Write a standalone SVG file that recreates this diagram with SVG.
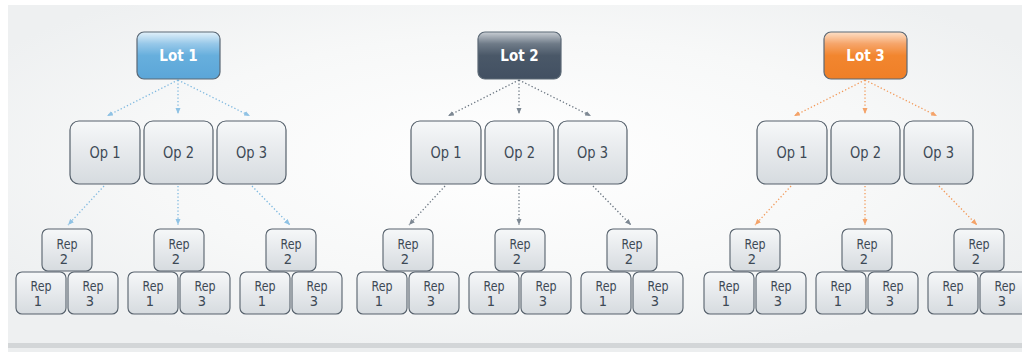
<svg xmlns="http://www.w3.org/2000/svg" width="1022" height="352" viewBox="0 0 1022 352">
<defs>
<radialGradient id="bg" cx="0.5" cy="0.45" r="0.6">
<stop offset="0" stop-color="#ffffff"/>
<stop offset="0.6" stop-color="#f7f8f8"/>
<stop offset="1" stop-color="#eef0f1"/>
</radialGradient>
<linearGradient id="gOp" x1="0" y1="0" x2="0" y2="1">
<stop offset="0" stop-color="#f6f8f9"/>
<stop offset="0.5" stop-color="#e6e9ec"/>
<stop offset="1" stop-color="#d6dbdf"/>
</linearGradient>
<linearGradient id="gL1" x1="0" y1="0" x2="0" y2="1">
<stop offset="0" stop-color="#e3f1fa"/>
<stop offset="0.25" stop-color="#97c8e9"/>
<stop offset="0.5" stop-color="#67afdd"/>
<stop offset="1" stop-color="#5ba6d8"/>
</linearGradient>
<linearGradient id="gL2" x1="0" y1="0" x2="0" y2="1">
<stop offset="0" stop-color="#c9ced4"/>
<stop offset="0.25" stop-color="#6f7b88"/>
<stop offset="0.5" stop-color="#4a5868"/>
<stop offset="1" stop-color="#425062"/>
</linearGradient>
<linearGradient id="gL3" x1="0" y1="0" x2="0" y2="1">
<stop offset="0" stop-color="#fde0c8"/>
<stop offset="0.25" stop-color="#f6a56a"/>
<stop offset="0.5" stop-color="#f2862f"/>
<stop offset="1" stop-color="#ef7f27"/>
</linearGradient>
<marker id="aB" markerWidth="7" markerHeight="6" refX="6" refY="3" orient="auto" markerUnits="userSpaceOnUse"><path d="M0,0.5 L6,3 L0,5.5 z" fill="#8fc2e4"/></marker>
<marker id="aD" markerWidth="7" markerHeight="6" refX="6" refY="3" orient="auto" markerUnits="userSpaceOnUse"><path d="M0,0.5 L6,3 L0,5.5 z" fill="#7d8893"/></marker>
<marker id="aO" markerWidth="7" markerHeight="6" refX="6" refY="3" orient="auto" markerUnits="userSpaceOnUse"><path d="M0,0.5 L6,3 L0,5.5 z" fill="#f4a369"/></marker>
<style>
.lot rect{stroke:#5b6875;stroke-width:1.2}
.lot text{font-family:"DejaVu Sans Condensed","DejaVu Sans",sans-serif;font-weight:bold;font-size:15px;fill:#ffffff;text-anchor:middle}
.op rect{fill:url(#gOp);stroke:#56616c;stroke-width:1.2}
.op text{font-family:"DejaVu Sans Condensed","DejaVu Sans",sans-serif;font-size:16.5px;fill:#3d4955;text-anchor:middle}
.rep rect{fill:url(#gOp);stroke:#56616c;stroke-width:1.1}
.rep text{font-family:"DejaVu Sans Condensed","DejaVu Sans",sans-serif;font-size:14.5px;fill:#3d4955;text-anchor:middle}
.c{fill:none;stroke-width:1.3;stroke-dasharray:1.3 2.2}
.cB{stroke:#7fb9e0;marker-end:url(#aB)}
.cD{stroke:#6a7580;marker-end:url(#aD)}
.cO{stroke:#f39a5a;marker-end:url(#aO)}
</style>
</defs>
<rect x="0" y="0" width="1022" height="352" fill="#ffffff"/>
<rect x="8" y="5" width="1014" height="341" fill="url(#bg)"/>
<rect x="8" y="343" width="1014" height="5" fill="#d3d6d8"/>
<rect x="8" y="348" width="1014" height="4" fill="#eceeef"/>

<g id="connectors">
<g class="c cB">
<path d="M178,80 L107,116"/><path d="M178,80 L178,114"/><path d="M178,80 L250,116"/>
<path d="M104,186 L68,225"/><path d="M178,186 L178,225"/><path d="M252,186 L290,225"/>
</g>
<g class="c cD">
<path d="M519,80 L448,116"/><path d="M519,80 L519,114"/><path d="M519,80 L591,116"/>
<path d="M445,186 L409,225"/><path d="M519,186 L519,225"/><path d="M593,186 L631,225"/>
</g>
<g class="c cO">
<path d="M865,80 L794,116"/><path d="M865,80 L865,114"/><path d="M865,80 L937,116"/>
<path d="M791,186 L755,225"/><path d="M865,186 L865,225"/><path d="M939,186 L977,225"/>
</g>
</g>

<g id="tree1">
<g id="lot1" class="lot"><rect x="137" y="32" width="83" height="47" rx="7" fill="url(#gL1)"/><text x="178.5" y="61">Lot 1</text></g>
<g id="t1-op1" class="op"><rect x="70" y="121" width="70" height="63" rx="9"/><text x="105" y="158" textLength="31" lengthAdjust="spacingAndGlyphs">Op 1</text></g>
<g id="t1-op2" class="op"><rect x="144" y="121" width="69" height="63" rx="9"/><text x="178.5" y="158" textLength="31" lengthAdjust="spacingAndGlyphs">Op 2</text></g>
<g id="t1-op3" class="op"><rect x="217" y="121" width="69" height="63" rx="9"/><text x="251.5" y="158" textLength="31" lengthAdjust="spacingAndGlyphs">Op 3</text></g>
<g id="t1-a-rep2" class="rep"><rect x="42" y="229" width="50" height="42" rx="6"/><text x="67" y="248.5" textLength="21" lengthAdjust="spacingAndGlyphs">Rep</text><text x="64" y="264">2</text></g>
<g id="t1-a-rep1" class="rep"><rect x="16" y="272" width="50" height="42" rx="6"/><text x="41" y="291" textLength="21" lengthAdjust="spacingAndGlyphs">Rep</text><text x="38" y="306">1</text></g>
<g id="t1-a-rep3" class="rep"><rect x="68" y="272" width="50" height="42" rx="6"/><text x="93" y="291" textLength="21" lengthAdjust="spacingAndGlyphs">Rep</text><text x="90" y="306">3</text></g>
<g id="t1-b-rep2" class="rep"><rect x="154" y="229" width="50" height="42" rx="6"/><text x="179" y="248.5" textLength="21" lengthAdjust="spacingAndGlyphs">Rep</text><text x="176" y="264">2</text></g>
<g id="t1-b-rep1" class="rep"><rect x="128" y="272" width="50" height="42" rx="6"/><text x="153" y="291" textLength="21" lengthAdjust="spacingAndGlyphs">Rep</text><text x="150" y="306">1</text></g>
<g id="t1-b-rep3" class="rep"><rect x="180" y="272" width="50" height="42" rx="6"/><text x="205" y="291" textLength="21" lengthAdjust="spacingAndGlyphs">Rep</text><text x="202" y="306">3</text></g>
<g id="t1-c-rep2" class="rep"><rect x="266" y="229" width="50" height="42" rx="6"/><text x="291" y="248.5" textLength="21" lengthAdjust="spacingAndGlyphs">Rep</text><text x="288" y="264">2</text></g>
<g id="t1-c-rep1" class="rep"><rect x="240" y="272" width="50" height="42" rx="6"/><text x="265" y="291" textLength="21" lengthAdjust="spacingAndGlyphs">Rep</text><text x="262" y="306">1</text></g>
<g id="t1-c-rep3" class="rep"><rect x="292" y="272" width="50" height="42" rx="6"/><text x="317" y="291" textLength="21" lengthAdjust="spacingAndGlyphs">Rep</text><text x="314" y="306">3</text></g>
</g>

<g id="tree2" transform="translate(341,0)">
<g id="lot2" class="lot"><rect x="137" y="32" width="83" height="47" rx="7" fill="url(#gL2)"/><text x="178.5" y="61">Lot 2</text></g>
<g id="t2-op1" class="op"><rect x="70" y="121" width="70" height="63" rx="9"/><text x="105" y="158" textLength="31" lengthAdjust="spacingAndGlyphs">Op 1</text></g>
<g id="t2-op2" class="op"><rect x="144" y="121" width="69" height="63" rx="9"/><text x="178.5" y="158" textLength="31" lengthAdjust="spacingAndGlyphs">Op 2</text></g>
<g id="t2-op3" class="op"><rect x="217" y="121" width="69" height="63" rx="9"/><text x="251.5" y="158" textLength="31" lengthAdjust="spacingAndGlyphs">Op 3</text></g>
<g id="t2-a-rep2" class="rep"><rect x="42" y="229" width="50" height="42" rx="6"/><text x="67" y="248.5" textLength="21" lengthAdjust="spacingAndGlyphs">Rep</text><text x="64" y="264">2</text></g>
<g id="t2-a-rep1" class="rep"><rect x="16" y="272" width="50" height="42" rx="6"/><text x="41" y="291" textLength="21" lengthAdjust="spacingAndGlyphs">Rep</text><text x="38" y="306">1</text></g>
<g id="t2-a-rep3" class="rep"><rect x="68" y="272" width="50" height="42" rx="6"/><text x="93" y="291" textLength="21" lengthAdjust="spacingAndGlyphs">Rep</text><text x="90" y="306">3</text></g>
<g id="t2-b-rep2" class="rep"><rect x="154" y="229" width="50" height="42" rx="6"/><text x="179" y="248.5" textLength="21" lengthAdjust="spacingAndGlyphs">Rep</text><text x="176" y="264">2</text></g>
<g id="t2-b-rep1" class="rep"><rect x="128" y="272" width="50" height="42" rx="6"/><text x="153" y="291" textLength="21" lengthAdjust="spacingAndGlyphs">Rep</text><text x="150" y="306">1</text></g>
<g id="t2-b-rep3" class="rep"><rect x="180" y="272" width="50" height="42" rx="6"/><text x="205" y="291" textLength="21" lengthAdjust="spacingAndGlyphs">Rep</text><text x="202" y="306">3</text></g>
<g id="t2-c-rep2" class="rep"><rect x="266" y="229" width="50" height="42" rx="6"/><text x="291" y="248.5" textLength="21" lengthAdjust="spacingAndGlyphs">Rep</text><text x="288" y="264">2</text></g>
<g id="t2-c-rep1" class="rep"><rect x="240" y="272" width="50" height="42" rx="6"/><text x="265" y="291" textLength="21" lengthAdjust="spacingAndGlyphs">Rep</text><text x="262" y="306">1</text></g>
<g id="t2-c-rep3" class="rep"><rect x="292" y="272" width="50" height="42" rx="6"/><text x="317" y="291" textLength="21" lengthAdjust="spacingAndGlyphs">Rep</text><text x="314" y="306">3</text></g>
</g>

<g id="tree3" transform="translate(687,0)">
<g id="lot3" class="lot"><rect x="137" y="32" width="83" height="47" rx="7" fill="url(#gL3)"/><text x="178.5" y="61">Lot 3</text></g>
<g id="t3-op1" class="op"><rect x="70" y="121" width="70" height="63" rx="9"/><text x="105" y="158" textLength="31" lengthAdjust="spacingAndGlyphs">Op 1</text></g>
<g id="t3-op2" class="op"><rect x="144" y="121" width="69" height="63" rx="9"/><text x="178.5" y="158" textLength="31" lengthAdjust="spacingAndGlyphs">Op 2</text></g>
<g id="t3-op3" class="op"><rect x="217" y="121" width="69" height="63" rx="9"/><text x="251.5" y="158" textLength="31" lengthAdjust="spacingAndGlyphs">Op 3</text></g>
<g id="t3-a-rep2" class="rep"><rect x="43" y="229" width="50" height="42" rx="6"/><text x="68" y="248.5" textLength="21" lengthAdjust="spacingAndGlyphs">Rep</text><text x="65" y="264">2</text></g>
<g id="t3-a-rep1" class="rep"><rect x="17" y="272" width="50" height="42" rx="6"/><text x="42" y="291" textLength="21" lengthAdjust="spacingAndGlyphs">Rep</text><text x="39" y="306">1</text></g>
<g id="t3-a-rep3" class="rep"><rect x="69" y="272" width="50" height="42" rx="6"/><text x="94" y="291" textLength="21" lengthAdjust="spacingAndGlyphs">Rep</text><text x="91" y="306">3</text></g>
<g id="t3-b-rep2" class="rep"><rect x="155" y="229" width="50" height="42" rx="6"/><text x="180" y="248.5" textLength="21" lengthAdjust="spacingAndGlyphs">Rep</text><text x="177" y="264">2</text></g>
<g id="t3-b-rep1" class="rep"><rect x="129" y="272" width="50" height="42" rx="6"/><text x="154" y="291" textLength="21" lengthAdjust="spacingAndGlyphs">Rep</text><text x="151" y="306">1</text></g>
<g id="t3-b-rep3" class="rep"><rect x="181" y="272" width="50" height="42" rx="6"/><text x="206" y="291" textLength="21" lengthAdjust="spacingAndGlyphs">Rep</text><text x="203" y="306">3</text></g>
<g id="t3-c-rep2" class="rep"><rect x="267" y="229" width="50" height="42" rx="6"/><text x="292" y="248.5" textLength="21" lengthAdjust="spacingAndGlyphs">Rep</text><text x="289" y="264">2</text></g>
<g id="t3-c-rep1" class="rep"><rect x="241" y="272" width="50" height="42" rx="6"/><text x="266" y="291" textLength="21" lengthAdjust="spacingAndGlyphs">Rep</text><text x="263" y="306">1</text></g>
<g id="t3-c-rep3" class="rep"><rect x="293" y="272" width="50" height="42" rx="6"/><text x="318" y="291" textLength="21" lengthAdjust="spacingAndGlyphs">Rep</text><text x="315" y="306">3</text></g>
</g>
</svg>
